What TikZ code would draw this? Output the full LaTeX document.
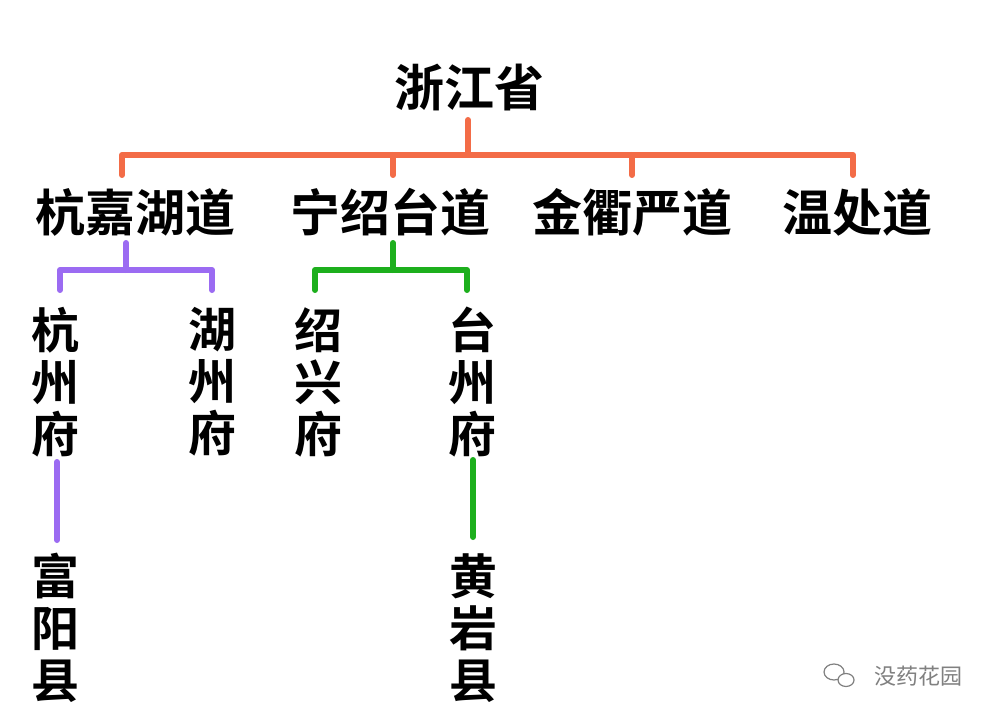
\documentclass[tikz,border=0pt]{standalone}
\usepackage{fontspec}
\newfontfamily\cjk{Noto Sans CJK SC Bold}
\newfontfamily\cjkl{Noto Sans CJK SC}
\definecolor{org}{HTML}{F36C47}
\definecolor{pur}{HTML}{9B6BF2}
\definecolor{grn}{HTML}{1DAF1D}
\begin{document}
\begin{tikzpicture}[x=1pt,y=-1pt,
  t/.style={font=\cjk\fontsize{50}{50}\selectfont,inner sep=0pt},
  v/.style={font=\cjk\fontsize{48}{52}\selectfont,inner sep=0pt,align=center},
  ln/.style={line width=6pt,line cap=round,line join=round}]
\useasboundingbox[fill=white] (0,0) rectangle (1000,719);
\node[t] (zj) at (469,88) {浙江省};
\node[t] (a) at (135,212) {杭嘉湖道};
\node[t] (b) at (390,212) {宁绍台道};
\node[t] (c) at (632,212) {金衢严道};
\node[t] (d) at (857,212) {温处道};
\node[v] (hz) at (55,382) {杭\\州\\府};
\node[v] (huz) at (212,382) {湖\\州\\府};
\node[v] (sx) at (318,382) {绍\\兴\\府};
\node[v] (tz) at (472,382) {台\\州\\府};
\node[v] (fy) at (55,628) {富\\阳\\县};
\node[v] (hy) at (473,628) {黄\\岩\\县};
\draw[ln,org] (468,120) -- (468,155);
\draw[ln,org] (122,175) -- (122,155) -- (853,155) -- (853,175);
\draw[ln,org] (393,155) -- (393,175);
\draw[ln,org] (632,155) -- (632,175);
\draw[ln,pur] (126,243) -- (126,270);
\draw[ln,pur] (60,290) -- (60,270) -- (212,270) -- (212,290);
\draw[ln,grn] (393,243) -- (393,270);
\draw[ln,grn] (315,290) -- (315,270) -- (467,270) -- (467,290);
\draw[ln,pur] (57,462) -- (57,540);
\draw[ln,grn] (473,460) -- (473,537);
\node[font=\cjkl\fontsize{22}{22}\selectfont,text=gray,inner sep=0pt] (wm) at (918,676) {没药花园};
\draw[gray,line width=1.2pt] (834,672) ellipse (10 and 8);
\draw[gray,line width=1.2pt,fill=white] (846,680) ellipse (8 and 6.5);
\end{tikzpicture}
\end{document}
